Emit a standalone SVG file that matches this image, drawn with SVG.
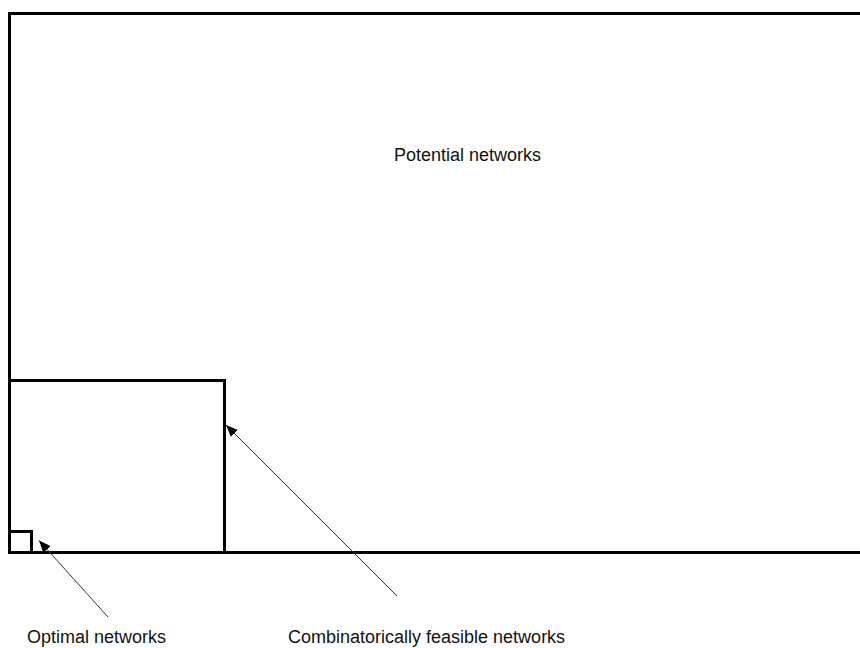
<svg xmlns="http://www.w3.org/2000/svg" width="860" height="648" viewBox="0 0 860 648">
<defs>
<style>
.box{fill:none;stroke:#000;stroke-width:3}
.conn{stroke:#333;stroke-width:1;fill:none}
.lbl{font-family:"Liberation Sans",Arial,sans-serif;font-size:18px;fill:#111}
</style>
<marker id="ah" viewBox="0 0 12 10" refX="12" refY="5" markerWidth="12" markerHeight="10" markerUnits="userSpaceOnUse" orient="auto">
<path d="M0,0 L12,5 L0,10 Z" fill="#000"/>
</marker>
</defs>
<rect width="860" height="648" fill="#fff"/>
<g id="potential">
<path class="box" d="M870,13.5 H9.5 V552.5 H870"/>
<text class="lbl" x="394" y="161">Potential networks</text>
</g>
<g id="feasible">
<rect class="box" x="9.5" y="380.5" width="215" height="172"/>
</g>
<g id="optimal">
<rect class="box" x="9.5" y="531.5" width="22" height="21"/>
</g>
<g id="connectors">
<line class="conn" x1="397" y1="596" x2="226" y2="425" marker-end="url(#ah)"/>
<line class="conn" x1="108" y1="617" x2="39" y2="540.5" marker-end="url(#ah)"/>
</g>
<g id="labels">
<text class="lbl" x="27" y="643">Optimal networks</text>
<text class="lbl" x="288" y="643">Combinatorically feasible networks</text>
</g>
</svg>
